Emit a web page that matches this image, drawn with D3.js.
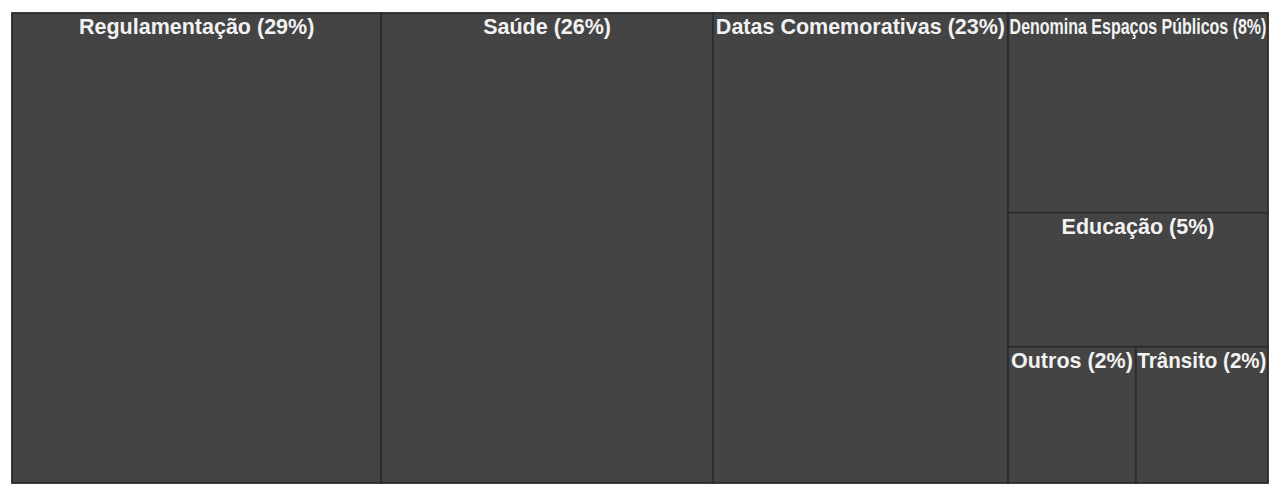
<!DOCTYPE html>
<html>
<head>
<meta charset="utf-8">
<script src="https://cdn.jsdelivr.net/npm/d3@7"></script>
<style>
    body { margin: 0; background: #fff; }
    svg { display: block; }
</style>
</head>
<body>
<svg class="treemap" width="1278" height="490"></svg>
<script>
var categories = ["Regulamentação", "Saúde", "Datas Comemorativas", "Denomina Espaços Públicos", "Educação", "Outros", "Trânsito"];
var values = [29.4, 26.4, 23.5, 8.8, 5.9, 2.95, 3.05];
var percentLabels = ["29%", "26%", "23%", "8%", "5%", "2%", "2%"];

renderTreemap();

function renderTreemap() {

    var svg = d3.select(".treemap"),
        margin = {
            top: 13,
            right: 10,
            bottom: 7,
            left: 12
        },
        width = +svg.attr("width") - margin.left - margin.right,
        height = +svg.attr("height") - margin.top - margin.bottom;

    var data = {
        name: "root",
        children: categories.map(function (c, i) {
            return { name: c, value: values[i], pct: percentLabels[i] };
        })
    };

    var root = d3.hierarchy(data).sum(function (d) {
        return d.value || 0;
    });

    d3.treemap()
        .tile(d3.treemapSquarify.ratio(1))
        .size([width, height])
        .round(false)(root);

    var g = svg.append("g")
        .attr("transform", "translate(" + margin.left + "," + margin.top + ")");

    var cell = g.selectAll(".cell")
        .data(root.leaves())
        .enter().append("g")
        .attr("class", "cell")
        .attr("transform", function (d) {
            return "translate(" + d.x0 + "," + d.y0 + ")";
        });

    cell.append("rect")
        .attr("width", function (d) { return d.x1 - d.x0; })
        .attr("height", function (d) { return d.y1 - d.y0; })
        .attr("fill", "#444444")
        .attr("stroke", "#2c2c2c")
        .attr("stroke-width", 1.8);

    cell.append("text")
        .attr("text-anchor", "middle")
        .attr("fill", "#f2f2f2")
        .style("font-family", "'Liberation Sans', Arial, Helvetica, sans-serif")
        .style("font-size", "21.5px")
        .style("font-weight", "bold")
        .text(function (d) { return d.data.name + " (" + d.data.pct + ")"; })
        .attr("transform", function (d) {
            // squeeze labels that do not fit in their box
            var avail = (d.x1 - d.x0) - 3,
                len = this.getComputedTextLength(),
                k = len > avail ? avail / len : 1;
            return "translate(" + (d.x1 - d.x0) / 2 + ",21) scale(" + k + ",1)";
        });
}
</script>
</body>
</html>
